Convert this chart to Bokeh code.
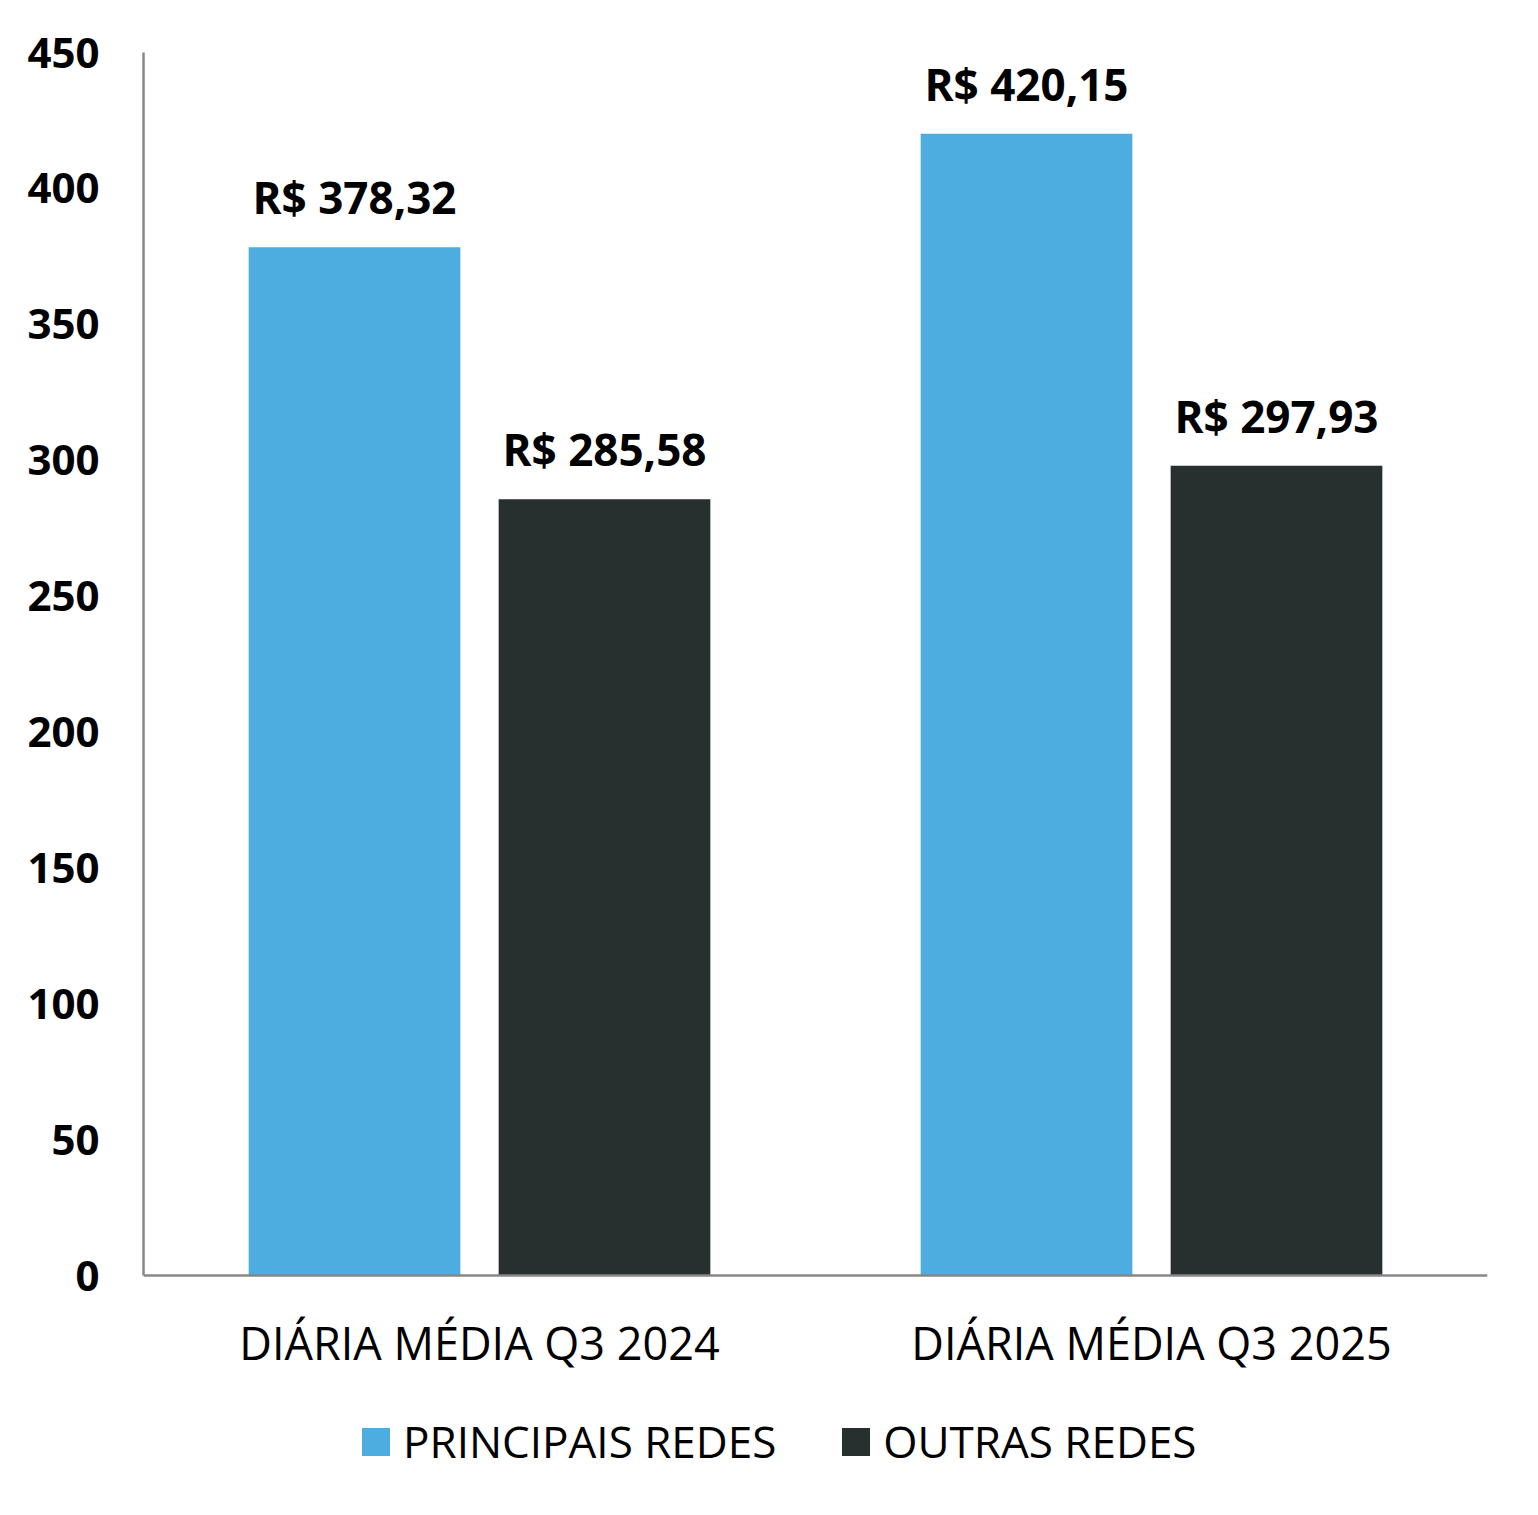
from bokeh.plotting import figure
from bokeh.models import ColumnDataSource, FactorRange, Range1d, FixedTicker, Legend, LegendItem
from bokeh.transform import dodge
from bokeh.core.properties import value
from bokeh.embed import file_html
from bokeh.resources import INLINE

categories = ["DIÁRIA MÉDIA Q3 2024", "DIÁRIA MÉDIA Q3 2025"]
series_names = ["PRINCIPAIS REDES", "OUTRAS REDES"]
principais = [378.32, 420.15]
outras = [285.58, 297.93]
y_ticks = [0, 50, 100, 150, 200, 250, 300, 350, 400, 450]

BLUE = "#4DADE0"
DARK = "#272F2F"
FONT = "Open Sans"


def fmt(v):
    return "R$ " + f"{v:.2f}".replace(".", ",")


src = ColumnDataSource(dict(
    cat=categories,
    principais=principais,
    outras=outras,
    lab_p=[fmt(v) for v in principais],
    lab_o=[fmt(v) for v in outras],
))

W, H = 1522, 1499
TOP, BOTTOM = 52, 8
AXIS_PX = 1275            # pixel row of value 0
PX_PER_UNIT = (AXIS_PX - TOP) / 450.0
y_min = -((H - BOTTOM) - AXIS_PX) / PX_PER_UNIT   # room below 0 for labels and legend

p = figure(
    width=W, height=H,
    x_range=FactorRange(factors=categories, range_padding=0),
    y_range=Range1d(y_min, 450),
    output_backend="svg", toolbar_location=None,
    min_border_left=143, min_border_right=35,
    min_border_top=TOP, min_border_bottom=BOTTOM,
)
p.xgrid.visible = False
p.ygrid.visible = False
p.outline_line_color = None
p.background_fill_color = "white"
p.border_fill_color = "white"

off = 0.186
bw = 0.315
r1 = p.vbar(x=dodge("cat", -off, range=p.x_range), top="principais", bottom=0, width=bw,
            source=src, fill_color=BLUE, line_color=None)
r2 = p.vbar(x=dodge("cat", off, range=p.x_range), top="outras", bottom=0, width=bw,
            source=src, fill_color=DARK, line_color=None)

for xoff, ycol, lcol in [(-off, "principais", "lab_p"), (off, "outras", "lab_o")]:
    p.text(x=dodge("cat", xoff, range=p.x_range), y=ycol, text=lcol, source=src,
           text_font=value(FONT), text_font_style="bold", text_font_size="44px",
           text_align="center", text_baseline="middle", y_offset=-50,
           text_color="black")

# axes
p.yaxis.ticker = FixedTicker(ticks=y_ticks)
p.yaxis.bounds = (0, 450)
p.yaxis.major_tick_line_color = None
p.yaxis.minor_tick_line_color = None
p.yaxis.axis_line_color = "#878787"
p.yaxis.axis_line_width = 2.5
p.yaxis.major_label_text_font = FONT
p.yaxis.major_label_text_font_style = "bold"
p.yaxis.major_label_text_font_size = "42px"
p.yaxis.major_label_text_color = "black"
p.yaxis.major_label_standoff = 38

p.xaxis.fixed_location = 0
p.xaxis.major_tick_line_color = None
p.xaxis.minor_tick_line_color = None
p.xaxis.axis_line_color = "#878787"
p.xaxis.axis_line_width = 2.5
p.xaxis.major_label_text_font = FONT
p.xaxis.major_label_text_font_size = "45px"
p.xaxis.major_label_text_color = "black"
p.xaxis.major_label_standoff = 30

legend = Legend(
    items=[LegendItem(label=series_names[0], renderers=[r1]),
           LegendItem(label=series_names[1], renderers=[r2])],
    orientation="horizontal",
    location=(215, 20),
    glyph_width=35, glyph_height=35,
    label_text_font=FONT, label_text_font_size="44px", label_text_color="black",
    label_standoff=10, spacing=62, padding=0, margin=0,
    border_line_color=None, background_fill_alpha=0,
)
p.add_layout(legend, "center")

open("out.html", "w").write(file_html(p, INLINE))
